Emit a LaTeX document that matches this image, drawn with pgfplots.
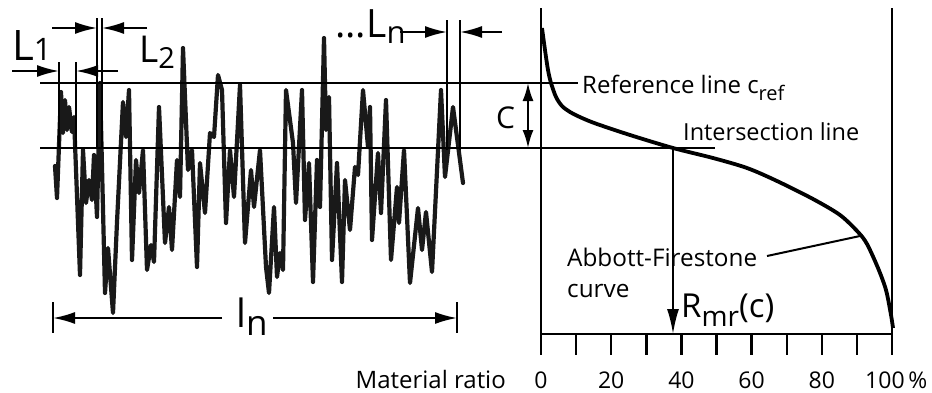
\documentclass[border=0pt]{standalone}
\usepackage{pgfplots}
\pgfplotsset{compat=1.18}
\usepackage{fontspec}
\setmainfont{Open Sans}
\usetikzlibrary{arrows.meta}
\newcommand\fs[1]{\fontsize{#1}{#1}\selectfont}
\tikzset{
  arr/.style={-{Latex[length=22pt,width=12pt]}, line width=2pt, black},
  thinln/.style={line width=2.4pt, black},
}
\begin{document}
\begin{tikzpicture}
\begin{axis}[
  scale only axis, width=932pt, height=392pt,
  xmin=0, xmax=932, ymin=0, ymax=392, y dir=reverse,
  hide axis, clip=false,
]
% bounding frame (invisible)
\addplot[draw=none] coordinates {(0,0)(932,392)};
% roughness profile
\addplot[line width=4.2pt, black!90, line join=round, line cap=round] coordinates {
(55,166)(57,198)(61,92)(63,133)(65,100)(67,130)(69,107)(72,132)(74,117)(80,275)
(83,150)(86,203)(89,180)(92,200)(94,155)(97,217)(100,83)(105,293)(108,248)(113,313)
(117,222)(123,102)(126,137)(129,90)(132,260)(136,160)(139,193)(143,150)(147,270)(151,245)
(154,262)(159,107)(165,243)(169,207)(172,250)(177,160)(180,197)(183,48)(188,170)(192,150)
(197,267)(200,163)(205,213)(210,133)(214,137)(218,75)(222,90)(226,223)(230,150)(234,197)
(240,85)(245,243)(251,170)(254,207)(260,150)(266,267)(269,293)(274,207)(277,277)(280,253)
(283,270)(286,90)(293,143)(296,203)(302,90)(305,220)(309,163)(313,282)(317,160)(320,207)
(324,38)(326,130)(329,97)(332,260)(337,163)(342,282)(345,180)(350,230)(355,167)(358,175)
(363,90)(368,147)(370,107)(372,240)(378,153)(381,213)(386,100)(391,260)(397,187)(399,223)
(404,150)(410,283)(418,208)(422,250)(426,212)(432,272)(441,90)(445,177)(453,107)(463,183)
};
% reference and intersection lines
\addplot[thinln] coordinates {(40,83)(578,83)};
\addplot[thinln] coordinates {(40,148)(715,148)};
% sampling length markers
\addplot[line width=1.8pt] coordinates {(59,62)(59,148)};
\addplot[line width=1.8pt] coordinates {(76,62)(76,148)};
\addplot[line width=1.8pt] coordinates {(97,18)(97,148)};
\addplot[line width=1.8pt] coordinates {(102,18)(102,148)};
\addplot[line width=1.8pt] coordinates {(447,20)(447,150)};
\addplot[line width=1.8pt] coordinates {(460,20)(460,150)};
\addplot[arr] coordinates {(12,71)(59,71)};
\addplot[arr] coordinates {(118,71)(76,71)};
\addplot[arr] coordinates {(52,28)(97,28)};
\addplot[arr] coordinates {(147,28)(102,28)};
\addplot[arr] coordinates {(400,32)(447,32)};
\addplot[arr] coordinates {(502,32)(460,32)};
% evaluation length
\addplot[line width=1.8pt] coordinates {(53,302)(53,333)};
\addplot[line width=1.8pt] coordinates {(457,302)(457,333)};
\addplot[arr] coordinates {(222,318)(53,318)};
\addplot[arr] coordinates {(273,318)(457,318)};
% C double arrow
\addplot[line width=2pt, {Latex[length=18pt,width=11pt]}-{Latex[length=18pt,width=11pt]}] coordinates {(528,83)(528,148)};
% material ratio frame
\addplot[thinln] coordinates {(541,8)(541,334)(892,334)(892,8)};
\pgfplotsinvokeforeach{541,576.1,611.2,646.3,681.4,716.5,751.6,786.7,821.8,856.9,892}{
  \addplot[thinln] coordinates {(#1,334)(#1,355)};
}
% Abbott-Firestone curve
\addplot[line width=3.8pt, black, smooth, tension=0.5] coordinates {
(542,28)(545,50)(548,70)(551,83)(556,97)(562,106)(570,112)(582,118)(597,124)(630,135)
(673,148)(713,158)(747,168)(777,181)(813,199)(840,215)(858,232)(867,244)(878,268)
(886,290)(891,315)(893,328)
};
% R_mr arrow
\addplot[line width=2pt, -{Latex[length=25pt,width=12pt]}] coordinates {(673,148)(673,334)};
% leader line
\addplot[line width=2pt] coordinates {(767,256)(860,236)};
% texts
\node[anchor=base west, inner sep=0] at (axis cs:12,60) {\fs{42}L\raisebox{0pt}{\fs{31}1}};
\node[anchor=base west, inner sep=0] at (axis cs:139,62) {\fs{37}L\raisebox{-6pt}{\fs{29}2}};
\node[anchor=base west, inner sep=0] at (axis cs:335,37) {\fs{39}...L\raisebox{-6pt}{\fs{31}n}};
\node[anchor=base west, inner sep=0] at (axis cs:236,327) {\fs{39}l\raisebox{-8pt}{\fs{35}n}};
\node[anchor=base west, inner sep=0] at (axis cs:496,128) {\fs{30}C};
\node[anchor=base west, inner sep=0] at (axis cs:582,93) {\fs{24}Reference line c\raisebox{-7pt}{\fs{20}ref}};
\node[anchor=base west, inner sep=0] at (axis cs:683,140) {\fs{23.5}Intersection line};
\node[anchor=base west, inner sep=0] at (axis cs:567,266) {\fs{24.3}Abbott-Firestone};
\node[anchor=base west, inner sep=0] at (axis cs:567,297) {\fs{24.3}curve};
\node[anchor=base west, inner sep=0] at (axis cs:681,317) {\fs{33}R\raisebox{-9pt}{\fs{28}mr}(c)};
\node[anchor=base east, inner sep=0] at (axis cs:506,388) {\fs{24}Material ratio};
\node[anchor=base, inner sep=0] at (axis cs:541,388) {\fs{23}0};
\node[anchor=base, inner sep=0] at (axis cs:611.2,388) {\fs{23}20};
\node[anchor=base, inner sep=0] at (axis cs:681.4,388) {\fs{23}40};
\node[anchor=base, inner sep=0] at (axis cs:751.6,388) {\fs{23}60};
\node[anchor=base, inner sep=0] at (axis cs:821.8,388) {\fs{23}80};
\node[anchor=base west, inner sep=0] at (axis cs:865,388) {\fs{23}100\,\%};
\end{axis}
\end{tikzpicture}
\end{document}
